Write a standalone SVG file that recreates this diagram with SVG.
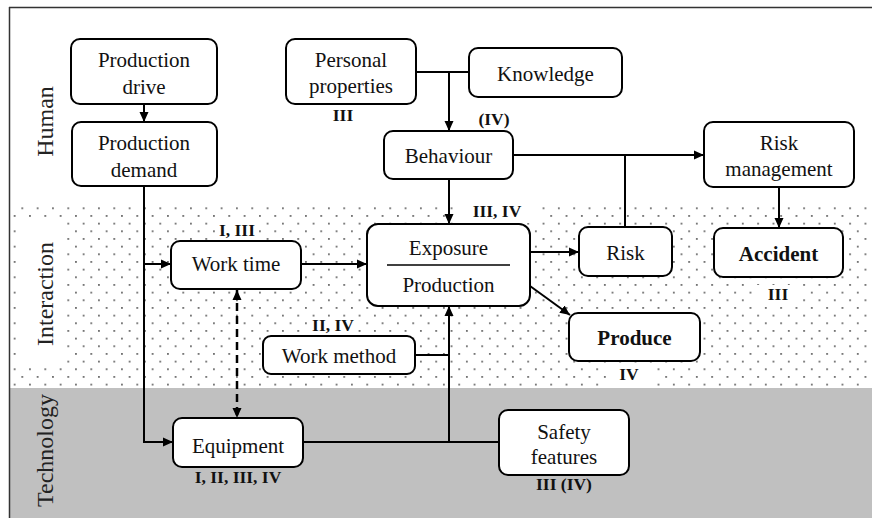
<svg xmlns="http://www.w3.org/2000/svg" width="872" height="518" viewBox="0 0 872 518">
<defs>
<pattern id="dots" patternUnits="userSpaceOnUse" x="18.5" y="204.5" width="15.33" height="15.33">
<circle cx="3.8" cy="3.8" r="0.85" fill="#333"/>
<circle cx="11.47" cy="11.47" r="0.85" fill="#333"/>
</pattern>
<marker id="ah" viewBox="0 0 10 10" refX="10" refY="5" markerWidth="10" markerHeight="10" markerUnits="userSpaceOnUse" orient="auto">
<path d="M0,0.5 L10,5 L0,9.5 Z" fill="#000"/>
</marker>
<marker id="ahs" viewBox="0 0 10 10" refX="0" refY="5" markerWidth="10" markerHeight="10" markerUnits="userSpaceOnUse" orient="auto">
<path d="M10,0.5 L0,5 L10,9.5 Z" fill="#000"/>
</marker>
</defs>
<style>
.box{fill:#fff;stroke:#000;stroke-width:2}
text{font-family:'Liberation Serif','Times New Roman',serif;fill:#111;text-anchor:middle}
.t{font-size:21px;font-weight:normal}
.tb{font-size:21px;font-weight:bold}
.lb{font-size:17.5px;font-weight:bold}
.lane{font-size:24px;font-weight:normal;fill:#222}
.c{fill:none;stroke:#000;stroke-width:2}
.a{marker-end:url(#ah)}
.bg{fill:#fff}
</style>
<g id="lanes">
<rect x="10" y="207" width="862" height="181" fill="url(#dots)"/>
<rect x="10" y="388" width="862" height="130" fill="#c0c0c0"/>
<rect class="bg" x="17" y="221" width="49" height="145"/>
<rect class="bg" x="215" y="222" width="44" height="18"/>
<rect class="bg" x="453" y="207" width="84" height="16"/>
<rect class="bg" x="755" y="285" width="48" height="20"/>
<rect class="bg" x="308" y="318" width="50" height="17"/>
<rect class="bg" x="606" y="366" width="46" height="21"/>
<line x1="9" y1="7.5" x2="872" y2="7.5" stroke="#333" stroke-width="1.5"/>
<line x1="9.5" y1="7" x2="9.5" y2="518" stroke="#333" stroke-width="1.5"/>
<text class="lane" font-family="Liberation Serif, serif" x="53" y="121.5" transform="rotate(-90 53 121.5)">Human</text>
<text class="lane" font-family="Liberation Serif, serif" x="53" y="294" transform="rotate(-90 53 294)">Interaction</text>
<text class="lane" font-family="Liberation Serif, serif" x="53" y="450.5" transform="rotate(-90 53 450.5)">Technology</text>
</g>
<g id="connectors">
<line class="c a" x1="144" y1="104" x2="144" y2="122"/>
<polyline class="c a" points="144,186 144,442 173,442"/>
<line class="c a" x1="144" y1="264" x2="171" y2="264"/>
<line class="c a" x1="301" y1="264" x2="367" y2="264"/>
<line x1="237" y1="290" x2="237" y2="418" stroke="#000" stroke-width="2.5" stroke-dasharray="8,5" marker-start="url(#ahs)" marker-end="url(#ah)"/>
<line class="c" x1="303" y1="442" x2="499" y2="442"/>
<line class="c a" x1="449" y1="442" x2="449" y2="306"/>
<line class="c" x1="415" y1="355" x2="449" y2="355"/>
<line class="c" x1="416" y1="72" x2="469" y2="72"/>
<line class="c a" x1="449" y1="72" x2="449" y2="131"/>
<line class="c a" x1="449" y1="179" x2="449" y2="224"/>
<line class="c a" x1="513" y1="155" x2="704" y2="155"/>
<line class="c" x1="625" y1="155" x2="625" y2="227"/>
<line class="c a" x1="530" y1="252" x2="579" y2="252"/>
<line class="c a" x1="530" y1="286" x2="570" y2="315"/>
<line class="c a" x1="779" y1="187" x2="779" y2="228"/>
</g>
<g id="production-drive">
<rect class="box" x="71" y="39" width="146" height="65" rx="9"/>
<text class="t" font-family="Liberation Serif, serif" x="144" y="67">Production</text>
<text class="t" font-family="Liberation Serif, serif" x="144" y="94">drive</text>
</g>
<g id="production-demand">
<rect class="box" x="72" y="122" width="145" height="64" rx="9"/>
<text class="t" font-family="Liberation Serif, serif" x="144" y="150">Production</text>
<text class="t" font-family="Liberation Serif, serif" x="144" y="177">demand</text>
</g>
<g id="personal-properties">
<rect class="box" x="286" y="39" width="130" height="65" rx="9"/>
<text class="t" font-family="Liberation Serif, serif" x="351" y="67">Personal</text>
<text class="t" font-family="Liberation Serif, serif" x="351" y="93">properties</text>
<text class="lb" font-family="Liberation Serif, serif" x="343" y="121">III</text>
</g>
<g id="knowledge">
<rect class="box" x="469" y="48" width="153" height="49" rx="9"/>
<text class="t" font-family="Liberation Serif, serif" x="545.5" y="81">Knowledge</text>
</g>
<g id="behaviour">
<rect class="box" x="384" y="131" width="129" height="48" rx="9"/>
<text class="t" font-family="Liberation Serif, serif" x="448.5" y="163">Behaviour</text>
<text class="lb" font-family="Liberation Serif, serif" x="494" y="125">(IV)</text>
</g>
<g id="risk-management">
<rect class="box" x="704" y="122" width="150" height="65" rx="9"/>
<text class="t" font-family="Liberation Serif, serif" x="779" y="150">Risk</text>
<text class="t" font-family="Liberation Serif, serif" x="779" y="176">management</text>
</g>
<g id="work-time">
<rect class="box" x="171" y="241" width="130" height="48" rx="9"/>
<text class="t" font-family="Liberation Serif, serif" x="236" y="271">Work time</text>
<text class="lb" font-family="Liberation Serif, serif" x="237" y="236">I, III</text>
</g>
<g id="exposure-production">
<rect class="box" x="367" y="224" width="163" height="82" rx="11"/>
<line x1="387" y1="265" x2="510" y2="265" stroke="#000" stroke-width="1.5"/>
<text class="t" font-family="Liberation Serif, serif" x="448.5" y="255">Exposure</text>
<text class="t" font-family="Liberation Serif, serif" x="448.5" y="292">Production</text>
<text class="lb" font-family="Liberation Serif, serif" x="497" y="217">III, IV</text>
</g>
<g id="risk">
<rect class="box" x="579" y="227" width="93" height="49" rx="9"/>
<text class="t" font-family="Liberation Serif, serif" x="625.5" y="260">Risk</text>
</g>
<g id="accident">
<rect class="box" x="714" y="228" width="129" height="49" rx="9"/>
<text class="tb" font-family="Liberation Serif, serif" x="778.5" y="261">Accident</text>
<text class="lb" font-family="Liberation Serif, serif" x="778" y="300">III</text>
</g>
<g id="work-method">
<rect class="box" x="263" y="336" width="152" height="38" rx="8"/>
<text class="t" font-family="Liberation Serif, serif" x="339" y="363">Work method</text>
<text class="lb" font-family="Liberation Serif, serif" x="333" y="331">II, IV</text>
</g>
<g id="produce">
<rect class="box" x="569" y="313" width="131" height="48" rx="9"/>
<text class="tb" font-family="Liberation Serif, serif" x="634.5" y="345">Produce</text>
<text class="lb" font-family="Liberation Serif, serif" x="629" y="380">IV</text>
</g>
<g id="equipment">
<rect class="box" x="173" y="418" width="130" height="49" rx="9"/>
<text class="t" font-family="Liberation Serif, serif" x="238" y="453">Equipment</text>
<text class="lb" font-family="Liberation Serif, serif" x="238" y="483">I, II, III, IV</text>
</g>
<g id="safety-features">
<rect class="box" x="499" y="410" width="130" height="65" rx="9"/>
<text class="t" font-family="Liberation Serif, serif" x="564" y="439">Safety</text>
<text class="t" font-family="Liberation Serif, serif" x="564" y="464">features</text>
<text class="lb" font-family="Liberation Serif, serif" x="564" y="490">III (IV)</text>
</g>
</svg>
